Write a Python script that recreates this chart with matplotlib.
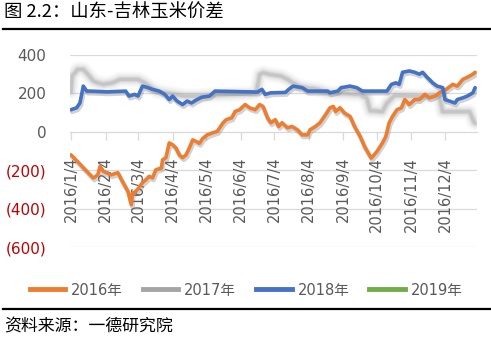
import matplotlib
matplotlib.use("Agg")
import matplotlib.pyplot as plt
import matplotlib.dates as mdates
import matplotlib.patheffects as pe
from matplotlib.lines import Line2D
from datetime import datetime

plt.rcParams['font.family'] = ['DejaVu Sans', 'Noto Sans CJK SC']

# ---------------- data ----------------
dates_2016 = ["2016-01-04", "2016-01-24", "2016-01-28", "2016-01-30", "2016-02-02", "2016-02-09",
              "2016-02-15", "2016-02-19", "2016-02-24", "2016-02-27", "2016-02-28", "2016-03-02",
              "2016-03-05", "2016-03-08", "2016-03-11", "2016-03-14", "2016-03-17", "2016-03-20",
              "2016-03-25", "2016-03-26", "2016-03-29", "2016-04-01", "2016-04-04", "2016-04-07",
              "2016-04-10", "2016-04-13", "2016-04-16", "2016-04-19", "2016-04-22", "2016-04-25",
              "2016-04-28", "2016-05-01", "2016-05-05", "2016-05-10", "2016-05-14", "2016-05-19",
              "2016-05-22", "2016-05-27", "2016-05-30", "2016-06-03", "2016-06-08", "2016-06-12",
              "2016-06-17", "2016-06-21", "2016-06-24", "2016-06-28", "2016-07-01", "2016-07-05",
              "2016-07-08", "2016-07-11", "2016-07-16", "2016-07-20", "2016-07-25", "2016-07-29",
              "2016-08-03", "2016-08-05", "2016-08-10", "2016-08-14", "2016-08-19", "2016-08-23",
              "2016-08-26", "2016-08-28", "2016-09-01", "2016-09-05", "2016-09-10", "2016-09-14",
              "2016-09-19", "2016-09-23", "2016-09-28", "2016-09-29", "2016-10-04", "2016-10-09",
              "2016-10-12", "2016-10-15", "2016-10-18", "2016-10-22", "2016-10-26", "2016-10-29",
              "2016-11-02", "2016-11-07", "2016-11-11", "2016-11-16", "2016-11-20", "2016-11-25",
              "2016-11-29", "2016-12-05", "2016-12-11", "2016-12-15", "2016-12-20", "2016-12-24",
              "2016-12-29", "2016-12-31"]
values_2016 = [-120, -241, -224, -180, -206, -224, -213, -258, -310, -380, -320, -310,
               -290, -265, -250, -232, -240, -198, -188, -146, -135, -58, -67, -84,
               -120, -135, -120, -84, -42, -50, -60, -35, -16, -5, 2, 45,
               63, 73, 106, 115, 142, 125, 115, 142, 132, 73, 47, 63,
               28, 47, 21, 28, 10, -16, -16, 10, 28, 47, 89, 125,
               132, 106, 125, 98, 80, 28, -24, -77, -128, -137, -103, -58,
               -24, 47, 80, 115, 125, 168, 142, 168, 168, 195, 177, 186,
               203, 221, 247, 238, 273, 284, 300, 310]

dates_2017 = ["2016-01-04", "2016-01-05", "2016-01-10", "2016-01-15", "2016-01-19", "2016-01-24",
              "2016-01-28", "2016-02-02", "2016-02-10", "2016-02-17", "2016-03-04", "2016-03-10",
              "2016-03-16", "2016-03-21", "2016-03-28", "2016-04-06", "2016-04-15", "2016-04-27",
              "2016-05-07", "2016-05-25", "2016-06-12", "2016-06-18", "2016-06-21", "2016-06-24",
              "2016-07-01", "2016-07-10", "2016-07-16", "2016-07-21", "2016-07-27", "2016-08-03",
              "2016-08-12", "2016-08-23", "2016-09-05", "2016-09-19", "2016-09-25", "2016-09-28",
              "2016-10-09", "2016-10-13", "2016-10-20", "2016-11-11", "2016-11-29", "2016-12-02",
              "2016-12-26", "2016-12-30", "2016-12-31"]
values_2017 = [210, 290, 325, 325, 300, 265,
               255, 247, 255, 273, 273, 255,
               230, 212, 203, 195, 186, 186,
               190, 195, 200, 205, 298, 307,
               298, 290, 273, 254, 237, 228,
               221, 201, 200, 195, 175, 110,
               105, 149, 190, 185, 190, 105,
               105, 50, 45]

dates_2018 = ["2016-01-04", "2016-01-09", "2016-01-12", "2016-01-15", "2016-01-18", "2016-01-22",
              "2016-02-05", "2016-02-22", "2016-02-25", "2016-03-01", "2016-03-04", "2016-03-08",
              "2016-03-13", "2016-03-17", "2016-03-23", "2016-03-28", "2016-04-01", "2016-04-04",
              "2016-04-08", "2016-04-13", "2016-04-17", "2016-04-21", "2016-04-25", "2016-04-30",
              "2016-05-07", "2016-05-12", "2016-06-19", "2016-06-23", "2016-06-26", "2016-07-01",
              "2016-07-14", "2016-07-17", "2016-07-21", "2016-07-29", "2016-08-03", "2016-08-21",
              "2016-08-23", "2016-08-30", "2016-09-02", "2016-09-10", "2016-09-16", "2016-09-21",
              "2016-10-13", "2016-10-17", "2016-10-21", "2016-10-24", "2016-10-27", "2016-11-02",
              "2016-11-07", "2016-11-11", "2016-11-14", "2016-11-18", "2016-11-20", "2016-11-23",
              "2016-11-27", "2016-12-02", "2016-12-04", "2016-12-08", "2016-12-13", "2016-12-15",
              "2016-12-20", "2016-12-24", "2016-12-29", "2016-12-31"]
values_2018 = [115, 125, 150, 238, 212, 212,
               208, 212, 186, 195, 186, 238,
               230, 221, 212, 195, 168, 186,
               160, 142, 160, 150, 165, 180,
               186, 212, 207, 221, 195, 203,
               205, 221, 238, 230, 212, 212,
               203, 212, 230, 238, 230, 212,
               212, 247, 255, 247, 310, 317,
               310, 300, 310, 284, 273, 255,
               238, 230, 168, 160, 150, 168,
               177, 186, 203, 230]

dates_2019 = []
values_2019 = []

series_names = ["2016年", "2017年", "2018年", "2019年"]
series_colors = ["#ED7D31", "#A5A5A5", "#4472C4", "#70AD47"]

y_ticks = [400, 200, 0, -200, -400, -600]


def to_dates(strings):
    return [datetime.strptime(s, "%Y-%m-%d") for s in strings]


def fmt_num(v):
    return f"({abs(v)})" if v < 0 else f"{v}"


# ---------------- figure ----------------
W, H = 491, 338
fig = plt.figure(figsize=(W / 100, H / 100), dpi=100)
fig.patch.set_facecolor("white")

ax = fig.add_axes([70 / W, 1 - 247 / H, (477 - 70) / W, (247 - 55) / H])
ax.set_facecolor("white")

shadow = [pe.SimpleLineShadow(offset=(0.8, -1.6), shadow_color="#808080", alpha=0.35, linewidth=3.2),
          pe.Normal()]

# 2017: soft, blurred grey stroke
d17 = to_dates(dates_2017)
for lw, a in [(11, 0.07), (8, 0.10), (5.5, 0.16), (3.5, 0.25), (2.2, 0.30)]:
    ax.plot(d17, values_2017, color=series_colors[1], lw=lw, alpha=a,
            solid_capstyle="round", solid_joinstyle="round", zorder=2)

ax.plot(to_dates(dates_2016), values_2016, color=series_colors[0], lw=2.6,
        solid_joinstyle="round", solid_capstyle="round", zorder=3, path_effects=shadow)
ax.plot(to_dates(dates_2018), values_2018, color=series_colors[2], lw=2.6,
        solid_joinstyle="round", solid_capstyle="round", zorder=4, path_effects=shadow)
ax.plot(to_dates(dates_2019), values_2019, color=series_colors[3], lw=2.6)

# axes limits
x0 = mdates.date2num(datetime(2016, 1, 4)) - 0.9
x1 = mdates.date2num(datetime(2016, 12, 4)) + 28.7
ax.set_xlim(x0, x1)
ax.set_ylim(-600, 400)

# gridlines
for v in y_ticks:
    if v != 0:
        ax.axhline(v, color="#D9D9D9", lw=0.9, zorder=0)

for s in ["top", "right", "left"]:
    ax.spines[s].set_visible(False)
ax.spines["bottom"].set_position(("data", 0))
ax.spines["bottom"].set_color("#D9D9D9")
ax.spines["bottom"].set_linewidth(0.9)
ax.spines["bottom"].set_zorder(0)

# x axis: monthly ticks on the 4th
ax.xaxis.set_major_locator(mdates.MonthLocator(bymonthday=4))
ax.xaxis.set_major_formatter(plt.FuncFormatter(
    lambda x, pos: (lambda d: f"{d.year}/{d.month}/{d.day}")(mdates.num2date(x))))
ax.tick_params(axis="x", direction="out", length=6, width=0.9, color="#D9D9D9",
               pad=12, labelsize=10.5, labelcolor="#595959")
for lbl in ax.get_xticklabels():
    lbl.set_rotation(90)
    lbl.set_va("top")
    lbl.set_ha("center")

# y axis labels
ax.set_yticks(y_ticks)
ax.set_yticklabels([fmt_num(v) for v in y_ticks])
ax.tick_params(axis="y", length=0, pad=17, labelsize=11)
for lbl, v in zip(ax.get_yticklabels(), y_ticks):
    lbl.set_color("#C00000" if v < 0 else "#595959")

# legend
handles = [Line2D([0], [0], color=c, lw=3.5) for c in series_colors]
fig.legend(handles, series_names, loc="center", bbox_to_anchor=(246 / W, 1 - 290 / H),
           ncol=4, frameon=False, fontsize=10.5, handlelength=2.45, handletextpad=0.4,
           columnspacing=1.35, labelcolor="#595959")

# title, rules and source
cjk = ["Noto Sans CJK SC", "DejaVu Sans"]
fig.text(4 / W, 1 - 13 / H, "图 2.2：山东-吉林玉米价差", family=cjk, fontsize=13.2,
         color="black", va="center", ha="left")
fig.add_artist(Line2D([3 / W, 490 / W], [1 - 29 / H, 1 - 29 / H], color="black", lw=1.6))
fig.add_artist(Line2D([3 / W, 490 / W], [1 - 309 / H, 1 - 309 / H], color="black", lw=1.6))
fig.text(4 / W, 1 - 325 / H, "资料来源：一德研究院", family=cjk, fontsize=12.2,
         color="black", va="center", ha="left")

fig.savefig("out.png", dpi=100, facecolor="white")
